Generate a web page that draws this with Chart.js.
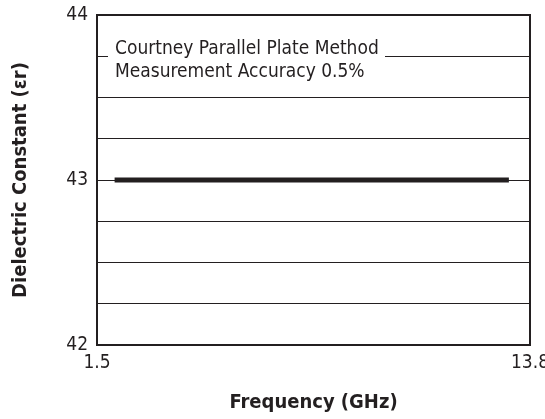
<!DOCTYPE html>
<html>
<head>
<meta charset="utf-8">
<script src="https://cdn.jsdelivr.net/npm/chart.js@4.4.1/dist/chart.umd.min.js"></script>
<style>
  html, body { margin: 0; padding: 0; background: #fff; }
  #wrap { width: 545px; height: 419px; position: relative; }
</style>
</head>
<body>
<div id="wrap"><canvas id="chart"></canvas></div>
<script>
// data
const freqGHz = [2.0, 13.2];
const dielectric = [43, 43];
const xTickValues = [1.5, 13.8];
const yLabelValues = [42, 43, 44];
const noteLines = ['Courtney Parallel Plate Method', 'Measurement Accuracy 0.5%'];

const FONT = "'Liberation Sans Narrow', 'DejaVu Sans Condensed', Arial, sans-serif";
const INK = '#231f20';

// white note box over the grid, plus the full frame
const notePlugin = {
    id: 'notePlugin',
    afterDatasetsDraw(chart) {
        const ctx = chart.ctx;
        const a = chart.chartArea;
        ctx.save();
        ctx.fillStyle = '#fff';
        ctx.fillRect(a.left + 11, a.top + 20, 277, 56);
        ctx.fillStyle = INK;
        ctx.font = '19px ' + FONT;
        ctx.textBaseline = 'alphabetic';
        ctx.fillText(noteLines[0], a.left + 18, a.top + 39);
        ctx.fillText(noteLines[1], a.left + 18, a.top + 62);
        ctx.strokeStyle = INK;
        ctx.lineWidth = 2;
        ctx.strokeRect(a.left, a.top, a.right - a.left, a.bottom - a.top);
        ctx.restore();
    }
};

const chart = new Chart(document.getElementById('chart'), {
    type: 'line',
    data: {
        datasets: [{
            data: freqGHz.map((f, i) => ({ x: f, y: dielectric[i] })),
            borderColor: INK,
            borderWidth: 5,
            borderCapStyle: 'butt',
            pointRadius: 0,
            fill: false
        }]
    },
    options: {
        responsive: true,
        maintainAspectRatio: false,
        animation: false,
        layout: { padding: { top: 15, right: 15, left: 0, bottom: 0 } },
        plugins: {
            legend: { display: false },
            tooltip: { enabled: false }
        },
        scales: {
            x: {
                type: 'linear',
                min: 1.5,
                max: 13.8,
                afterBuildTicks: scale => { scale.ticks = xTickValues.map(v => ({ value: v })); },
                afterFit: scale => {
                    scale.height = 74;
                    scale.paddingLeft = 0;
                    scale.paddingRight = 0;
                },
                grid: { display: false, drawTicks: false },
                border: { display: false },
                ticks: {
                    color: INK,
                    padding: 7,
                    maxRotation: 0,
                    autoSkip: false,
                    font: { family: FONT, size: 19 },
                    callback: v => v.toFixed(1)
                },
                title: {
                    display: true,
                    text: 'Frequency (GHz)',
                    color: INK,
                    font: { family: FONT, size: 20, weight: 'bold' },
                    padding: { top: 7, bottom: 4 }
                }
            },
            y: {
                min: 42,
                max: 44,
                afterBuildTicks: scale => {
                    const t = [];
                    for (let i = 0; i <= 8; i++) t.push({ value: 42 + i * 0.25 });
                    scale.ticks = t;
                },
                afterFit: scale => {
                    scale.width = 97;
                    scale.paddingTop = 0;
                    scale.paddingBottom = 0;
                },
                grid: { color: INK, lineWidth: 1, drawTicks: false },
                border: { display: false },
                ticks: {
                    color: INK,
                    padding: 9,
                    autoSkip: false,
                    font: { family: FONT, size: 19 },
                    callback: v => yLabelValues.includes(v) ? String(v) : ''
                },
                title: {
                    display: true,
                    text: 'Dielectric Constant (\u03b5r)',
                    color: INK,
                    font: { family: FONT, size: 20, weight: 'bold' },
                    padding: { top: 9, bottom: 12 }
                }
            }
        }
    },
    plugins: [notePlugin]
});
</script>
</body>
</html>
